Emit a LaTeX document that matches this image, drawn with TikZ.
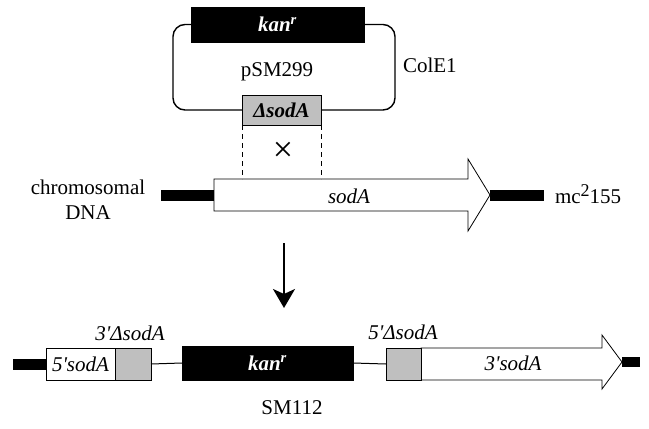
\documentclass[tikz,border=0pt]{standalone}
\usepackage{fontspec}
\setmainfont{Liberation Serif}
\usetikzlibrary{arrows.meta}
\begin{document}
\begin{tikzpicture}[x=1pt,y=-1pt,
  lbl/.style={font=\fontsize{21}{25}\selectfont, inner sep=0pt, outer sep=0pt},
  ilbl/.style={lbl, font=\fontsize{21}{25}\selectfont\itshape},
  blkbox/.style={draw=black, fill=black, text=white, line width=0.8pt, inner sep=0pt, outer sep=0pt,
     font=\fontsize{21}{25}\selectfont\bfseries\itshape},
  grybox/.style={draw=black, fill=black!25, line width=0.8pt, inner sep=0pt, outer sep=0pt},
  whtbox/.style={draw=black, fill=white, line width=0.8pt, inner sep=0pt, outer sep=0pt},
  bar/.style={line width=11pt},
  thin/.style={line width=1pt},
  loop/.style={line width=1.4pt, rounded corners=12pt},
  gene/.style={draw=black, fill=white, line width=0.8pt, line join=miter}
]
\useasboundingbox (0,0) rectangle (649,429);

% ---------- plasmid ----------
\node[blkbox, minimum width=173pt, minimum height=35pt] (kanp) at (277.5,24.5) {kan\textsuperscript{r}};
\node[grybox, minimum width=79pt, minimum height=30pt, font=\fontsize{21}{25}\selectfont\bfseries\itshape] (dsod) at (281.5,110) {ΔsodA};
\draw[loop] (kanp.west) -- (kanp.west -| 173,0) -- (173,110) -- (dsod.west);
\draw[loop] (kanp.east) -- (kanp.east -| 395,0) -- (395,110) -- (dsod.east);
\node[lbl] (psm) at (277,72) {pSM299};
\node[lbl, anchor=west] (cole) at (403,65) {ColE1};

% ---------- chromosome ----------
\coordinate (cl) at (161,195);
\coordinate (gs) at (214,195);
\coordinate (gt) at (490,195);
\coordinate (cr) at (544,195);
\draw[bar] (cl) -- (gs);
\draw[bar] (gt) -- (cr);
\draw[gene] (214,179) -- (468,179) -- (468,159) -- (gt) -- (468,231) -- (468,211) -- (214,211) -- cycle;
\node[ilbl] (sodA) at (349,196) {sodA};
\coordinate (d1) at (242,179);
\coordinate (d2) at (321,179);
\draw[thin, dashed, dash pattern=on 5pt off 4pt] (dsod.south west) -- (d1);
\draw[thin, dashed, dash pattern=on 5pt off 4pt] (dsod.south east) -- (d2);
\node[lbl, font=\fontsize{36}{40}\selectfont] (cross) at (283,152) {×};
\node[lbl, align=center] (chrom) at (88,200) {chromosomal\\DNA};
\node[lbl, anchor=west] (mc) at (555,194) {mc\raisebox{7pt}{\fontsize{18}{20}\selectfont 2}155};

% ---------- arrow ----------
\coordinate (a1) at (284,243);
\coordinate (a2) at (284,308);
\draw[line width=2pt, -{Stealth[length=19pt, width=22pt, inset=5pt]}] (a1) -- (a2);

% ---------- SM112 ----------
\coordinate (bl) at (13,364);
\node[whtbox, minimum width=69pt, minimum height=32pt, font=\fontsize{21}{25}\selectfont\itshape] (s5) at (80.5,364) {5\textquotesingle sodA};
\node[grybox, minimum width=36pt, minimum height=32pt] (g1) at (133,364) {};
\draw[bar] (bl) -- (s5.west);
\node[blkbox, minimum width=171pt, minimum height=34pt] (kanb) at (267.5,363) {kan\textsuperscript{r}};
\draw[thin] (g1.east) -- (kanb.west);
\draw[gene] (421,348) -- (602,348) -- (602,335) -- (622,362) -- (602,389) -- (602,380) -- (421,380) -- cycle;
\coordinate (tip) at (622,362);
\coordinate (br) at (640,362);
\draw[line width=10pt] (tip) -- (br);
\node[grybox, minimum width=35pt, minimum height=32pt] (g2) at (403.5,364) {};
\draw[thin] (kanb.east) -- (g2.west);
\node[ilbl] (s3) at (513,363) {3\textquotesingle sodA};
\node[ilbl] (d3) at (130,333) {3\textquotesingle ΔsodA};
\node[ilbl] (d5) at (403,332) {5\textquotesingle ΔsodA};
\node[lbl] (sm) at (292,408) {SM112};
\end{tikzpicture}
\end{document}
